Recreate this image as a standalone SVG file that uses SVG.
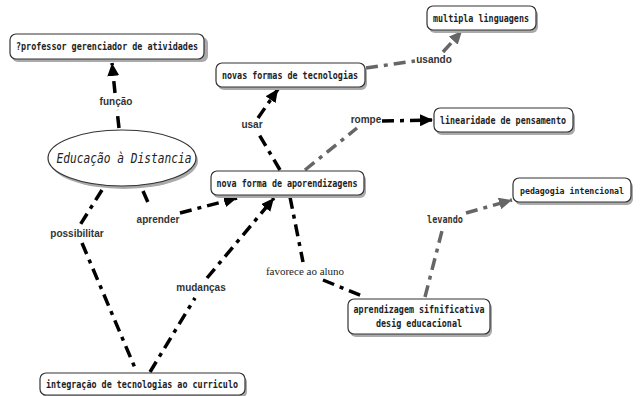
<svg xmlns="http://www.w3.org/2000/svg" width="641" height="396" viewBox="0 0 641 396">
<style>
.box{fill:#fff;stroke:#333;stroke-width:1.2}
.sh{fill:#aaa}
.t{font-family:"DejaVu Sans Mono","Liberation Mono",monospace;font-weight:bold;font-size:10.5px;fill:#222;text-anchor:middle}
.lb{font-family:"Liberation Sans","DejaVu Sans",sans-serif;font-weight:bold;font-size:10px;fill:#333;text-anchor:middle}
.lm{font-family:"DejaVu Sans Mono","Liberation Mono",monospace;font-weight:bold;font-size:10px;fill:#333;text-anchor:middle}
.ls{font-family:"Liberation Serif","DejaVu Serif",serif;font-size:11px;fill:#222;text-anchor:middle}
.k{fill:none;stroke:#000;stroke-width:3.5;stroke-dasharray:12 6 4 6}
.g{fill:none;stroke:#666;stroke-width:3.5;stroke-dasharray:12 6 4 6}
</style>
<defs>
<marker id="ak" markerUnits="userSpaceOnUse" markerWidth="14" markerHeight="12" refX="13" refY="6" orient="auto"><path d="M0,0 L13,6 L0,12 z" fill="#000"/></marker>
<marker id="ag" markerUnits="userSpaceOnUse" markerWidth="14" markerHeight="12" refX="13" refY="6" orient="auto"><path d="M0,0 L13,6 L0,12 z" fill="#666"/></marker>
</defs>
<g id="connectors">
<path class="k" d="M119,128 L117,110"/>
<path class="k" d="M115,93 L112,63" marker-end="url(#ak)"/>
<text class="lb" x="116" y="105">função</text>
<path class="k" d="M102,190 L80,225"/>
<path class="k" d="M82,243 L135,368"/>
<text class="lb" x="77" y="237">possibilitar</text>
<path class="k" d="M143,191 L150,207"/>
<path class="k" d="M180,213 L237,198" marker-end="url(#ak)"/>
<text class="lb" x="158" y="223">aprender</text>
<path class="k" d="M150,372 L195,298"/>
<path class="k" d="M207,278 L274,198" marker-end="url(#ak)"/>
<text class="lb" x="201" y="291">mudanças</text>
<path class="k" d="M280,170 L257,131"/>
<path class="k" d="M258,118 L278,89" marker-end="url(#ak)"/>
<text class="lb" x="252" y="128">usar</text>
<path class="g" d="M305,170 L357,128"/>
<path class="k" d="M382,121 L433,120" marker-end="url(#ak)"/>
<text class="lb" x="366" y="123">rompe</text>
<path class="g" d="M366,68 L415,61"/>
<path class="g" d="M443,52 L462,31" marker-end="url(#ag)"/>
<text class="lb" x="434" y="63">usando</text>
<path class="k" d="M290,197 L303,262"/>
<path class="k" d="M323,280 L365,297"/>
<text class="ls" x="305" y="275">favorece ao aluno</text>
<path class="g" d="M425,297 L443,227"/>
<path class="g" d="M466,213 L512,200" marker-end="url(#ag)"/>
<text class="lm" x="445" y="223" textLength="36" lengthAdjust="spacingAndGlyphs">levando</text>
</g>
<g id="n-professor">
<rect class="sh" x="12" y="37" width="196" height="25" rx="6"/>
<rect class="box" x="10" y="34" width="194" height="25" rx="6"/>
<text class="t" x="107" y="50" textLength="182" lengthAdjust="spacingAndGlyphs">?professor gerenciador de atividades</text>
</g>
<g id="n-educacao">
<ellipse class="sh" cx="124" cy="161" rx="74" ry="28"/>
<ellipse class="box" cx="122" cy="158" rx="74" ry="28"/>
<text x="124" y="163" style="font-family:'DejaVu Sans Mono','Liberation Mono',monospace;font-style:italic;font-size:14px;fill:#222;text-anchor:middle" textLength="135" lengthAdjust="spacingAndGlyphs">Educação à Distancia</text>
</g>
<g id="n-novas">
<rect class="sh" x="218" y="66" width="149" height="24" rx="6"/>
<rect class="box" x="216" y="63" width="149" height="24" rx="6"/>
<text class="t" x="290" y="79" textLength="136" lengthAdjust="spacingAndGlyphs">novas formas de tecnologias</text>
</g>
<g id="n-multipla">
<rect class="sh" x="429" y="9" width="109" height="24" rx="6"/>
<rect class="box" x="427" y="6" width="109" height="24" rx="6"/>
<text class="t" x="481" y="22" textLength="96" lengthAdjust="spacingAndGlyphs">multipla linguagens</text>
</g>
<g id="n-linearidade">
<rect class="sh" x="436" y="111" width="139" height="24" rx="6"/>
<rect class="box" x="434" y="108" width="139" height="24" rx="6"/>
<text class="t" x="503" y="124" textLength="126" lengthAdjust="spacingAndGlyphs">linearidade de pensamento</text>
</g>
<g id="n-novaforma">
<rect class="sh" x="213" y="174" width="153" height="24" rx="6"/>
<rect class="box" x="211" y="171" width="153" height="24" rx="6"/>
<text class="t" x="287" y="187" textLength="141" lengthAdjust="spacingAndGlyphs">nova forma de aporendizagens</text>
</g>
<g id="n-pedagogia">
<rect class="sh" x="515" y="181" width="118" height="24" rx="6"/>
<rect class="box" x="513" y="178" width="118" height="24" rx="6"/>
<text class="t" x="572" y="194" style="font-size:9.5px" textLength="104" lengthAdjust="spacingAndGlyphs">pedagogia intencional</text>
</g>
<g id="n-aprendizagem">
<rect class="sh" x="350" y="302" width="142" height="35" rx="6"/>
<rect class="box" x="348" y="299" width="142" height="35" rx="6"/>
<text class="t" x="419" y="313" textLength="131" lengthAdjust="spacingAndGlyphs">aprendizagem sifnificativa</text>
<text class="t" x="419" y="327" textLength="86" lengthAdjust="spacingAndGlyphs">desig educacional</text>
</g>
<g id="n-integracao">
<rect class="sh" x="42" y="376" width="205" height="22" rx="6"/>
<rect class="box" x="40" y="373" width="205" height="22" rx="6"/>
<text class="t" x="142" y="388" textLength="192" lengthAdjust="spacingAndGlyphs">integração de tecnologias ao curriculo</text>
</g>
</svg>
